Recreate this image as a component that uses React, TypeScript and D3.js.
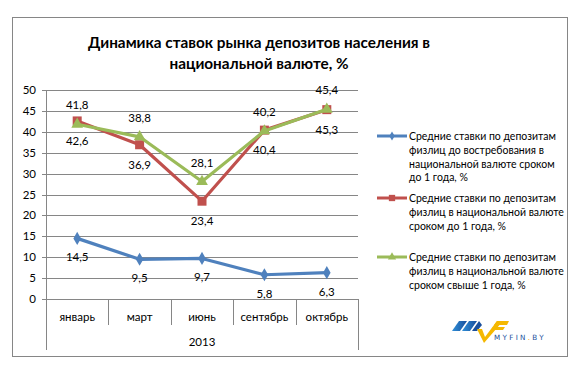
import React from "react";
import * as d3 from "d3";

const months = ["январь", "март", "июнь", "сентябрь", "октябрь"];
const demandRates = [14.5, 9.5, 9.7, 5.8, 6.3];
const upToYearRates = [42.6, 36.9, 23.4, 40.4, 45.3];
const overYearRates = [41.8, 38.8, 28.1, 40.2, 45.4];
const yTicks = [0, 5, 10, 15, 20, 25, 30, 35, 40, 45, 50];
const yearLabel = "2013";
const titleLines = ["Динамика ставок рынка депозитов населения в", "национальной валюте, %"];
const legendLines = [
  ["Средние ставки по депозитам", "физлиц до востребования в", "национальной валюте сроком", "до 1 года, %"],
  ["Средние ставки по депозитам", "физлиц в национальной валюте", "сроком до 1 года, %"],
  ["Средние ставки по депозитам", "физлиц в национальной валюте", "сроком свыше 1 года, %"],
];

const FONT = "Lato, 'Open Sans', sans-serif";
const GRID = "#868686";

type Series = { values: number[]; color: string; marker: string; labelDy: number };

const series: Series[] = [
  { values: demandRates, color: "#4F81BD", marker: "diamond", labelDy: 23 },
  { values: upToYearRates, color: "#C0504D", marker: "square", labelDy: 24 },
  { values: overYearRates, color: "#9BBB59", marker: "triangle", labelDy: -15 },
];

const fmt = (v: number) => v.toFixed(1).replace(".", ",");

function Marker({ kind, x, y, color, scale = 1 }: { kind: string; x: number; y: number; color: string; scale?: number }) {
  if (kind === "square") {
    const h = 4.5 * scale;
    return <rect x={x - h} y={y - h} width={h * 2} height={h * 2} fill={color} />;
  }
  const sym = kind === "diamond" ? d3.symbolDiamond : d3.symbolTriangle;
  const size = (kind === "diamond" ? 50 : 60) * scale * scale;
  return <path d={d3.symbol(sym, size)() || ""} transform={`translate(${x},${y})`} fill={color} />;
}

export default function App() {
  const left = 46, right = 358, top = 90, bottom = 299;
  const x = d3.scaleBand().domain(months).range([left, right]).padding(0);
  const y = d3.scaleLinear().domain([0, 50]).range([bottom, top]);
  const cx = (m: string) => (x(m) || 0) + x.bandwidth() / 2;
  const line = d3.line<number>().x((_, i) => cx(months[i])).y((d) => y(d));
  const legendY = [136, 198, 257];

  return (
    <svg width={583} height={374} style={{ position: "absolute", left: 0, top: 0, fontFamily: FONT }}>
      <rect x={0} y={0} width={583} height={374} fill="#fff" />
      <rect x={12.5} y={17.5} width={555} height={339} fill="#fff" stroke={GRID} />

      {titleLines.map((t, i) => (
        <text key={i} x={259} y={48 + i * 21} textAnchor="middle" fontSize={15.3} fontWeight="bold" fill="#000">
          {t}
        </text>
      ))}

      {/* grid + y axis */}
      {yTicks.map((t) => (
        <g key={t}>
          <line x1={left - 4} x2={right} y1={Math.round(y(t)) + 0.5} y2={Math.round(y(t)) + 0.5} stroke={GRID} />
          <text x={36} y={y(t) + 4} textAnchor="end" fontSize={11.5} fill="#000">{t}</text>
        </g>
      ))}
      <line x1={left + 0.5} x2={left + 0.5} y1={top} y2={350} stroke={GRID} />
      <line x1={right + 0.5} x2={right + 0.5} y1={bottom} y2={350} stroke={GRID} />
      {months.slice(1).map((m) => (
        <line key={m} x1={Math.round(x(m) || 0) + 0.5} x2={Math.round(x(m) || 0) + 0.5} y1={bottom} y2={325} stroke={GRID} />
      ))}
      {months.map((m) => (
        <text key={m} x={cx(m)} y={321} textAnchor="middle" fontSize={11.5} fill="#000">{m}</text>
      ))}
      <text x={(left + right) / 2} y={346} textAnchor="middle" fontSize={11.5} fill="#000">{yearLabel}</text>

      {/* series */}
      {series.map((s, si) => (
        <g key={si}>
          <path d={line(s.values) || ""} fill="none" stroke={s.color} strokeWidth={3.2} strokeLinejoin="round" />
          {s.values.map((v, i) => (
            <Marker key={i} kind={s.marker} x={cx(months[i])} y={y(v)} color={s.color} />
          ))}
        </g>
      ))}
      {series.map((s, si) =>
        s.values.map((v, i) => (
          <text key={`${si}-${i}`} x={cx(months[i])} y={y(v) + s.labelDy} textAnchor="middle" fontSize={11.5} fill="#000">
            {fmt(v)}
          </text>
        ))
      )}

      {/* legend */}
      {series.map((s, si) => (
        <g key={si}>
          <line x1={377} x2={407} y1={legendY[si]} y2={legendY[si]} stroke={s.color} strokeWidth={3} />
          <Marker kind={s.marker} x={392} y={legendY[si]} color={s.color} scale={0.7} />
          {legendLines[si].map((t, li) => (
            <text key={li} x={409} y={legendY[si] + 4 + li * 13.8} fontSize={10.5} fill="#000">{t}</text>
          ))}
        </g>
      ))}

      {/* logo */}
      <g>
        <defs>
          <linearGradient id="lg" x1="0" x2="1" y1="0" y2="0">
            <stop offset="0" stopColor="#2f8fd8" />
            <stop offset="1" stopColor="#1a4f9c" />
          </linearGradient>
        </defs>
        <polygon points="452,331 459,321 467,321 460,331" fill="url(#lg)" />
        <polygon points="462,331 469,321 477,321 470,331" fill="url(#lg)" />
        <polygon points="472,331 479,321 482,325 477,331" fill="#1a4f9c" />
        <polygon points="477,329 482,329 485,337 497,321 503,321 484,343" fill="#f5b800" />
        <polygon points="497,321 509,321 507,325 494,325" fill="#f5b800" />
        <polygon points="493,327 505,327 503,330 491,330" fill="#f5b800" />
        <text x={494} y={340} fontSize={7.2} letterSpacing={2.3} fill="#1a4f9c" fontFamily="'DejaVu Sans', sans-serif">
          MYFIN<tspan fill="#f5a000">.</tspan>BY
        </text>
      </g>
    </svg>
  );
}
